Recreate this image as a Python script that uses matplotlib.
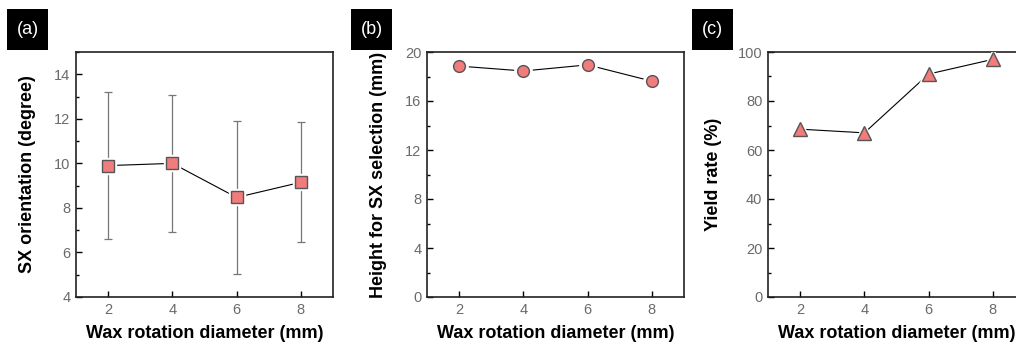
import matplotlib
matplotlib.use("Agg")
import matplotlib.pyplot as plt
from matplotlib.patches import Rectangle
from matplotlib.ticker import MultipleLocator

plt.rcParams['font.family'] = ['Liberation Sans', 'DejaVu Sans']

diameter = [2, 4, 6, 8]
sx_orient = [9.9, 10.0, 8.47, 9.15]
sx_err = [3.3, 3.08, 3.42, 2.7]
sx_height = [18.85, 18.45, 18.95, 17.62]
yield_rate = [68.5, 67.0, 91.0, 97.0]

W, H = 1016, 342
fig = plt.figure(figsize=(W / 100, H / 100), dpi=100)

def px_axes(left, top, right, bottom):
    return fig.add_axes([left / W, 1 - bottom / H, (right - left) / W, (bottom - top) / H])

face = '#f27b7b'
edge = '#555555'

def style(ax, ylim, major, minor, ylabel, lblx):
    ax.set_xlim(1, 9)
    ax.set_ylim(*ylim)
    ax.set_xticks(diameter)
    ax.yaxis.set_major_locator(MultipleLocator(major))
    ax.yaxis.set_minor_locator(MultipleLocator(minor))
    ax.tick_params(direction='in', which='major', length=4, width=1, top=False, right=False,
                   labelsize=10.5, labelcolor='#6a6a6a', pad=4)
    ax.tick_params(direction='in', which='minor', length=2, width=1, top=False, right=False)
    ax.tick_params(axis='x', which='minor', bottom=False)
    for s in ax.spines.values():
        s.set_linewidth(1.2)
        s.set_color('#222222')
    ax.set_xlabel('Wax rotation diameter (mm)', fontsize=13, fontweight='bold', labelpad=6)
    ax.set_ylabel(ylabel, fontsize=13, fontweight='bold')
    ax.yaxis.set_label_coords((lblx - ax.get_position().x0 * W) / (ax.get_position().width * W), 0.5)

def plot_series(ax, x, y, marker, ms):
    ax.plot(x, y, color='black', lw=0.8, zorder=2)
    ax.plot(x, y, ls='none', marker=marker, ms=ms + 4, mfc='white', mec='white', zorder=3)
    ax.plot(x, y, ls='none', marker=marker, ms=ms, mfc=face, mec=edge, mew=1.0, zorder=4)

# (a)
ax1 = px_axes(76, 52, 333, 297)
ax1.errorbar(diameter, sx_orient, yerr=sx_err, fmt='none', ecolor='#777777', elinewidth=0.9,
             capsize=3, capthick=0.9, zorder=1)
plot_series(ax1, diameter, sx_orient, 's', 8)
style(ax1, (4, 15), 2, 1, 'SX orientation (degree)', 36)

# (b)
ax2 = px_axes(427, 52, 684, 297)
plot_series(ax2, diameter, sx_height, 'o', 8.5)
style(ax2, (0, 20), 4, 2, 'Height for SX selection (mm)', 387)

# (c)
ax3 = px_axes(768, 52, 1025, 297)
plot_series(ax3, diameter, yield_rate, '^', 10.5)
style(ax3, (0, 100), 20, 10, 'Yield rate (%)', 722)

for lbl, x0 in [('(a)', 7), ('(b)', 351), ('(c)', 692)]:
    fig.patches.append(Rectangle((x0 / W, 1 - 50 / H), 41 / W, 41 / H, transform=fig.transFigure,
                                 fc='black', ec='none'))
    fig.text((x0 + 20.5) / W, 1 - 29.5 / H, lbl, color='white', fontsize=13,
             ha='center', va='center')

fig.savefig('out.png', dpi=100)
